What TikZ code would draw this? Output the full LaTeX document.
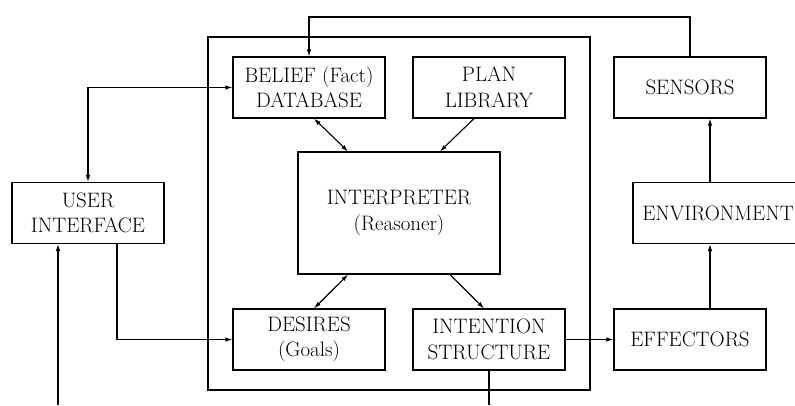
\documentclass[tikz,border=0pt]{standalone}
\usetikzlibrary{arrows.meta}
\begin{document}
\begin{tikzpicture}[x=1pt,y=-1pt,
  box/.style={draw, line width=1.1pt, align=center, inner sep=0pt,
    minimum width=152pt, minimum height=61pt,
    font=\fontsize{20.9}{25.5}\selectfont},
  arr/.style={line width=1.1pt, -{Latex[length=7pt,width=4.5pt]}},
  darr/.style={line width=1.1pt, {Latex[length=7pt,width=4.5pt]}-{Latex[length=7pt,width=4.5pt]}},
  ln/.style={line width=1.1pt}]
\useasboundingbox (0,0) rectangle (795,405);
\clip (0,0) rectangle (795,405);
% outer agent box
\node[draw, line width=1.1pt, minimum width=382pt, minimum height=353pt, inner sep=0pt] (agent) at (399,213.5) {};
% nodes
\node[box] (belief) at (309,87.5) {BELIEF (Fact)\\DATABASE};
\node[box] (plan) at (489,87.5) {PLAN\\LIBRARY};
\node[box] (sensors) at (690,87.5) {SENSORS};
\node[box, minimum width=202pt, minimum height=122pt] (interp) at (399,213) {INTERPRETER\\(Reasoner)};
\node[box] (ui) at (88,213) {USER\\INTERFACE};
\node[box, minimum width=170pt] (env) at (718,213) {ENVIRONMENT};
\node[box] (desires) at (309,339.5) {DESIRES\\(Goals)};
\node[box] (intention) at (489,339.5) {INTENTION\\STRUCTURE};
\node[box] (effectors) at (690,339.5) {EFFECTORS};
% helper coordinates
\coordinate (topline) at (0,17);
\coordinate (uiin) at (58,405);
\coordinate (intout) at (489,405);
\coordinate (col) at (710,0);
% connectors
\draw[arr] (sensors.north) -- (sensors.north |- topline) -- (belief.north |- topline) -- (belief.north);
\draw[darr] (ui.north) |- (belief.west);
\draw[arr] ([xshift=29pt]ui.south) |- (desires.west);
\draw[arr] (uiin) -- (uiin |- ui.south);
\draw[ln] (intention.south) -- (intout);
\draw[arr] (intention.east) -- (effectors.west);
\draw[arr] (col |- effectors.north) -- (col |- env.south);
\draw[arr] (col |- env.north) -- (col |- sensors.south);
\draw[darr] ([xshift=5pt]belief.south) -- ([xshift=-51pt]interp.north);
\draw[arr] ([xshift=-15pt]plan.south) -- ([xshift=41pt]interp.north);
\draw[darr] ([xshift=-51pt]interp.south) -- ([xshift=5pt]desires.north);
\draw[arr] ([xshift=51pt]interp.south) -- ([xshift=-5pt]intention.north);
\end{tikzpicture}
\end{document}
